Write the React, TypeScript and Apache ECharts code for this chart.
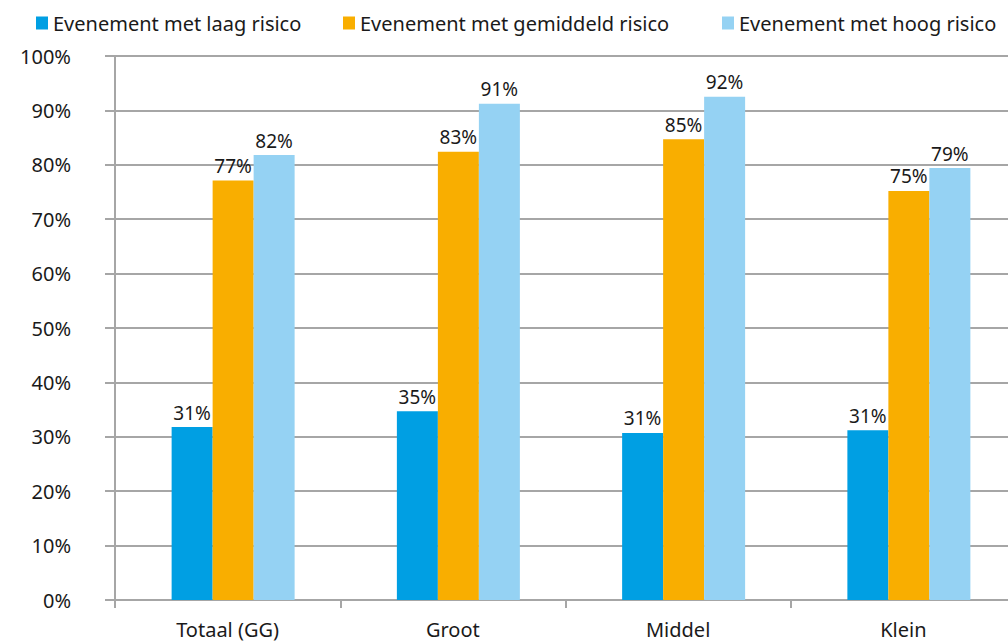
import React, { useEffect, useRef } from "react";
import * as echarts from "echarts";

const categories = ["Totaal (GG)", "Groot", "Middel", "Klein"];
const seriesNames = [
  "Evenement met laag risico",
  "Evenement met gemiddeld risico",
  "Evenement met hoog risico",
];
const laagValues = [31.8, 34.7, 30.7, 31.2];
const gemiddeldValues = [77.1, 82.4, 84.7, 75.2];
const hoogValues = [81.8, 91.2, 92.5, 79.4];
const laagLabels = ["31%", "35%", "31%", "31%"];
const gemiddeldLabels = ["77%", "83%", "85%", "75%"];
const hoogLabels = ["82%", "91%", "92%", "79%"];
const spacerValues = [0, 0, 0, 0];
const yTicks = [0, 10, 20, 30, 40, 50, 60, 70, 80, 90, 100];

const colors = ["#009fe3", "#f9ae00", "#95d2f3"];
const FONT = "'Noto Sans', 'Open Sans', sans-serif";
const TEXT = "#1a1a1a";
const GRID = "#a6a6a6";

export default function App() {
  const ref = useRef<HTMLDivElement>(null);
  useEffect(() => {
    if (!ref.current) return;
    const chart = echarts.init(ref.current, null, { renderer: "svg" });
    const valuesList = [laagValues, gemiddeldValues, hoogValues];
    const labelsList = [laagLabels, gemiddeldLabels, hoogLabels];
    const legendLefts = [31, 338, 717];
    const spacer = {
      name: "_spacer",
      type: "bar",
      data: spacerValues,
      barWidth: 11,
      barGap: "0%",
      silent: true,
      itemStyle: { color: "rgba(0,0,0,0)" },
      label: { show: false },
    };
    chart.setOption({
      animation: false,
      textStyle: { fontFamily: FONT },
      legend: seriesNames.map((n, i) => ({
        data: [n],
        left: legendLefts[i],
        top: 8,
        itemWidth: 12,
        itemHeight: 13,
        itemGap: 0,
        icon: "rect",
        textStyle: { fontSize: 20, color: TEXT, fontFamily: FONT },
      })),
      grid: {
        left: 115,
        width: 901,
        top: 56,
        bottom: 41,
        containLabel: false,
        outerBoundsMode: "none",
      },
      xAxis: {
        type: "category",
        data: categories,
        axisLine: { show: true, lineStyle: { color: GRID, width: 2 } },
        axisTick: { show: true, length: 8, lineStyle: { color: GRID, width: 2 } },
        axisLabel: { fontSize: 20, color: TEXT, margin: 19, fontFamily: FONT },
      },
      yAxis: {
        type: "value",
        min: yTicks[0],
        max: yTicks[yTicks.length - 1],
        interval: 10,
        axisLine: { show: true, lineStyle: { color: GRID, width: 2 } },
        axisTick: { show: true, length: 10, inside: false, lineStyle: { color: GRID, width: 2 } },
        splitLine: { show: true, lineStyle: { color: GRID, width: 2 } },
        axisLabel: {
          formatter: "{value}%",
          fontSize: 20,
          color: TEXT,
          margin: 44,
          fontFamily: FONT,
        },
      },
      series: [
        spacer,
        ...seriesNames.map((n, i) => ({
          name: n,
          type: "bar",
          data: valuesList[i],
          barWidth: 41,
          barGap: "0%",
          itemStyle: { color: colors[i] },
          label: {
            show: true,
            position: "top",
            distance: 5,
            fontSize: 19,
            color: TEXT,
            fontFamily: FONT,
            formatter: (p: any) => labelsList[i][p.dataIndex],
          },
        })),
      ],
    });
    return () => chart.dispose();
  }, []);
  return <div ref={ref} style={{ width: 1008, height: 641, position: "absolute", left: 0, top: 0 }} />;
}
